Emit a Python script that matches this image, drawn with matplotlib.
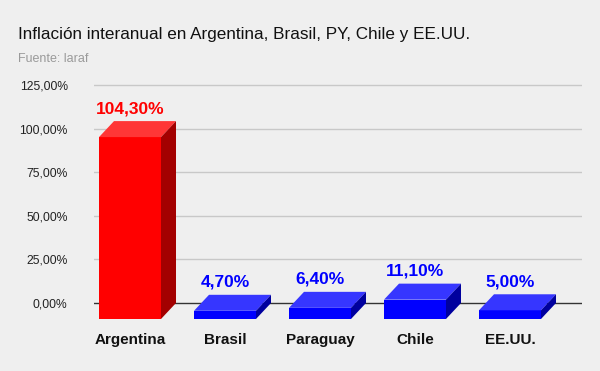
import matplotlib
matplotlib.use("Agg")
import matplotlib.pyplot as plt
from matplotlib.patches import Polygon

categories = ["Argentina", "Brasil", "Paraguay", "Chile", "EE.UU."]
values = [104.30, 4.70, 6.40, 11.10, 5.00]
highlight = ["Argentina"]
yticks = [0, 25, 50, 75, 100, 125]

title = "Inflación interanual en Argentina, Brasil, PY, Chile y EE.UU."
subtitle = "Fuente: laraf"

BG = "#efefef"
RED = ("#ff0000", "#ff3636", "#a30000")
BLUE = ("#0000ff", "#3636ff", "#00009e")

W, H = 600, 371
fig = plt.figure(figsize=(W / 100, H / 100), dpi=100, facecolor=BG)
plt.rcParams['font.family'] = ['Liberation Sans', 'DejaVu Sans']

# axes pixel geometry
x_left, x_right = 94, 582
y_top, y_bot = 80, 327
ax = fig.add_axes([x_left / W, (H - y_bot) / H, (x_right - x_left) / W, (y_bot - y_top) / H])
ax.set_facecolor(BG)
for s in ax.spines.values():
    s.set_visible(False)

k = 218 / 125.0  # px per percent
ax.set_ylim((303 - y_bot) / k, (303 - y_top) / k)
ax.set_xlim((x_left - 130) / 95.0, (x_right - 130) / 95.0)

for t in yticks:
    ax.axhline(t, color="#333333" if t == 0 else "#c8c8c8", lw=1, zorder=1)
ax.set_yticks(yticks)
ax.set_yticklabels([f"{t:.2f}".replace(".", ",") + "%" for t in yticks], fontsize=8.7, color="#222222")
ax.tick_params(axis="y", length=0, pad=19)
ax.set_xticks(range(len(categories)))
ax.set_xticklabels(categories, fontsize=11, fontweight="bold", color="#111111")
ax.tick_params(axis="x", length=0, pad=4)

bw = 62 / 95.0
dx = 15 / 95.0
dy = 16 / k

for i, (c, v) in enumerate(zip(categories, values)):
    front, top, side = RED if c in highlight else BLUE
    x0, x1 = i - bw / 2, i + bw / 2
    b, t = -dy, v - dy
    ax.add_patch(Polygon([(x0, b), (x1, b), (x1, t), (x0, t)], closed=True, fc=front, ec="none", zorder=3))
    ax.add_patch(Polygon([(x0, t), (x1, t), (x1 + dx, v), (x0 + dx, v)], closed=True, fc=top, ec="none", zorder=3))
    ax.add_patch(Polygon([(x1, b), (x1 + dx, b + dy), (x1 + dx, v), (x1, t)], closed=True, fc=side, ec="none", zorder=3))
    ax.annotate(f"{v:.2f}".replace(".", ",") + "%", xy=(i, v), xytext=(0, 9), textcoords="offset points",
                ha="center", va="center", fontsize=12.5, fontweight="bold", color=front, zorder=4)

fig.text(18 / W, 1 - 34 / H, title, fontsize=12.3, color="#111111", ha="left", va="center")
fig.text(18 / W, 1 - 59 / H, subtitle, fontsize=9, color="#9a9a9a", ha="left", va="center")

fig.savefig("out.png", dpi=100, facecolor=BG)
